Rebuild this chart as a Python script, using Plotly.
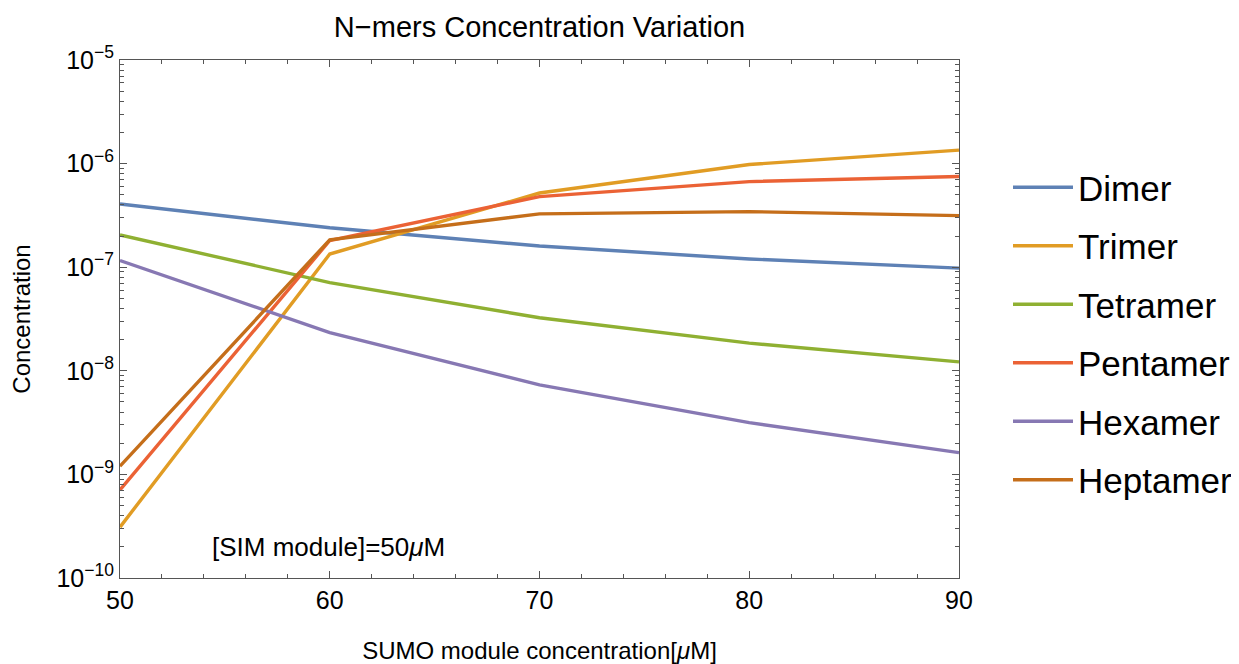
import plotly.graph_objects as go

x_vals = [50, 60, 70, 80, 90]
series_names = ["Dimer", "Trimer", "Tetramer", "Pentamer", "Hexamer", "Heptamer"]
dimer = [4.08e-7, 2.4e-7, 1.6e-7, 1.2e-7, 9.8e-8]
trimer = [3.1e-10, 1.34e-7, 5.2e-7, 9.8e-7, 1.35e-6]
tetramer = [2.05e-7, 7.1e-8, 3.25e-8, 1.85e-8, 1.22e-8]
pentamer = [7.1e-10, 1.81e-7, 4.8e-7, 6.7e-7, 7.5e-7]
hexamer = [1.16e-7, 2.34e-8, 7.3e-9, 3.16e-9, 1.62e-9]
heptamer = [1.2e-9, 1.84e-7, 3.27e-7, 3.44e-7, 3.15e-7]
series_values = [dimer, trimer, tetramer, pentamer, hexamer, heptamer]
colors = ["#5E81B5", "#E19C24", "#8FB032", "#EB6235", "#8778B3", "#C56E1A"]

x_ticks = [50, 60, 70, 80, 90]
y_ticks = [1e-10, 1e-9, 1e-8, 1e-7, 1e-6, 1e-5]
y_ticklabels = ["10<sup>\u221210</sup>", "10<sup>\u22129</sup>", "10<sup>\u22128</sup>",
                "10<sup>\u22127</sup>", "10<sup>\u22126</sup>", "10<sup>\u22125</sup>"]

FONT = "Liberation Sans, Arial, sans-serif"

# page body has an 8px margin; figure is sized so the page fits the window
W, H = 1231, 656

fig = go.Figure()
for name, vals, c in zip(series_names, series_values, colors):
    fig.add_trace(go.Scatter(x=x_vals, y=vals, mode="lines", name=name,
                             legendgroup=name,
                             line=dict(color=c, width=3.4)))

axis_common = dict(showgrid=False, zeroline=False, showline=True, linecolor="#555",
                   linewidth=1.2, mirror="ticks", ticks="inside", tickcolor="#555",
                   automargin=False,
                   tickfont=dict(size=25, color="black", family=FONT))

fig.update_layout(
    width=W, height=H,
    margin=dict(l=112, r=280, t=52, b=86),
    paper_bgcolor="white", plot_bgcolor="white",
    font=dict(family=FONT, color="black"),
    title=dict(text="N\u2212mers Concentration Variation", x=531.5/W, xanchor="center",
               y=1 - 19/H, yanchor="middle", font=dict(size=29, color="black")),
    xaxis=dict(range=[50, 90], tickvals=x_ticks, ticklen=7,
               minor=dict(dtick=2, ticks="inside", ticklen=4, tickcolor="#555"),
               title=dict(text="SUMO module concentration[<i>\u03bc</i>M]",
                          font=dict(size=24), standoff=31),
               **axis_common),
    yaxis=dict(type="log", range=[-10, -5], tickvals=y_ticks, ticktext=y_ticklabels,
               ticklen=7,
               minor=dict(dtick="D1", ticks="inside", ticklen=4, tickcolor="#555"),
               title=dict(text="Concentration", font=dict(size=24), standoff=20),
               **axis_common),
    legend=dict(xref="container", x=1000/W, xanchor="left",
                yref="container", y=1 - 150/H, yanchor="top",
                font=dict(size=35, color="black"), tracegroupgap=10,
                itemwidth=60, bgcolor="rgba(0,0,0,0)", maxheight=600),
    showlegend=True,
)

fig.add_annotation(text="[SIM module]=50<i>\u03bc</i>M", xref="x", yref="y",
                   x=54.3, y=-9.696, xanchor="left", yanchor="middle",
                   showarrow=False, font=dict(size=26, color="black"))

fig.write_html("out.html")
